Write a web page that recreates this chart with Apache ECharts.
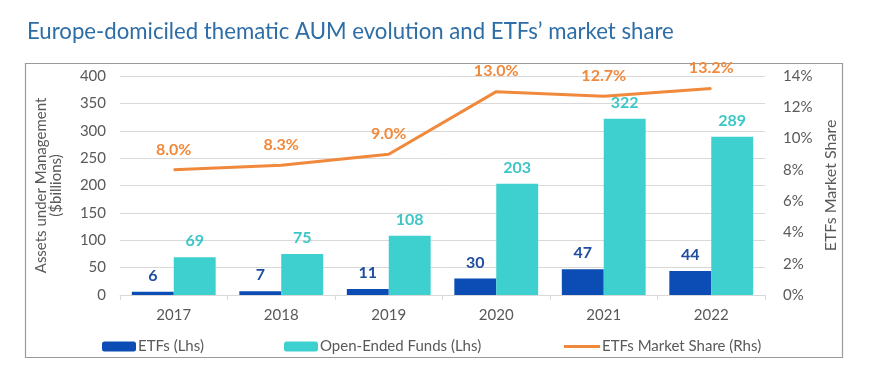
<!DOCTYPE html>
<html><head><meta charset="utf-8">
<script src="https://cdn.jsdelivr.net/npm/echarts@6/dist/echarts.min.js"></script>
<style>html,body{margin:0;padding:0;background:#fff}#c{width:878px;height:386px}</style>
</head><body><div id="c"></div>
<script>
const years = ['2017','2018','2019','2020','2021','2022'];
const etfs = [6, 7, 11, 30, 47, 44];
const oef = [69, 75, 108, 203, 322, 289];
const share = [8.0, 8.3, 9.0, 13.0, 12.7, 13.2];
const leftTicks = [0, 50, 100, 150, 200, 250, 300, 350, 400];
const rightTicks = [0, 2, 4, 6, 8, 10, 12, 14];

const F = 'Lato, "Open Sans", sans-serif';
const chart = echarts.init(document.getElementById('c'));
chart.setOption({
  animation: false,
  title: {text: 'Europe-domiciled thematic AUM evolution and ETFs’ market share', left: 22, top: 16,
    textStyle: {color: '#2e6ea6', fontSize: 22.2, fontWeight: 'normal', fontFamily: F}},
  graphic: [{type: 'rect', shape: {x: 25.5, y: 63.5, width: 817, height: 294},
    style: {fill: 'none', stroke: '#9a9a9a', lineWidth: 1.2}, silent: true}],
  legend: [
    {data: ['ETFs (Lhs)'], left: 97, top: 334, itemWidth: 34, itemHeight: 10, itemGap: 2,
      textStyle: {color: '#595959', fontSize: 15, fontFamily: F, padding: [0,0,0,-3]}},
    {data: ['Open-Ended Funds (Lhs)'], left: 279, top: 334, itemWidth: 34, itemHeight: 10,
      textStyle: {color: '#595959', fontSize: 15, fontFamily: F, padding: [0,0,0,-3]}},
    {data: [{name: 'ETFs Market Share (Rhs)', icon: 'rect'}], left: 559, top: 334, itemWidth: 36, itemHeight: 3,
      textStyle: {color: '#595959', fontSize: 15, fontFamily: F, padding: [0,0,0,-3]}}
  ],
  grid: {left: 120, right: 113, top: 76, bottom: 91},
  xAxis: {type: 'category', data: years,
    axisLine: {lineStyle: {color: '#d9d9d9'}}, axisTick: {show: true, lineStyle: {color: '#d9d9d9'}},
    axisLabel: {color: '#595959', fontSize: 15, fontFamily: F, margin: 13}},
  yAxis: [
    {type: 'value', min: 0, max: 400, interval: 50, name: 'Assets under Management\n($billions)',
      nameLocation: 'middle', nameRotate: 90, nameGap: 56,
      nameTextStyle: {color: '#595959', fontSize: 15, fontFamily: F, lineHeight: 15},
      axisLabel: {color: '#595959', fontSize: 15, fontFamily: F, margin: 14,
        formatter: v => leftTicks.includes(v) ? String(v) : ''},
      splitLine: {lineStyle: {color: '#d9d9d9'}}, axisLine: {show: false}, axisTick: {show: false}},
    {type: 'value', min: 0, max: 14, interval: 2, name: 'ETFs Market Share',
      nameLocation: 'middle', nameRotate: 90, nameGap: 56,
      nameTextStyle: {color: '#595959', fontSize: 16, fontFamily: F},
      axisLabel: {color: '#595959', fontSize: 15, fontFamily: F, margin: 18,
        formatter: v => rightTicks.includes(v) ? v + '%' : ''},
      splitLine: {show: false}, axisLine: {show: false}, axisTick: {show: false}}
  ],
  series: [
    {name: 'ETFs (Lhs)', type: 'bar', data: etfs, barGap: '0%', barCategoryGap: '22%',
      itemStyle: {color: '#0b4db5'},
      label: {show: true, position: 'top', distance: 8, color: '#1f4ea0', fontWeight: 'bold', fontSize: 16, fontFamily: F}},
    {name: 'Open-Ended Funds (Lhs)', type: 'bar', data: oef,
      itemStyle: {color: '#3ecfcf'},
      label: {show: true, position: 'top', distance: 8, color: '#3cc6c6', fontWeight: 'bold', fontSize: 16, fontFamily: F}},
    {name: 'ETFs Market Share (Rhs)', type: 'line', yAxisIndex: 1, data: share,
      symbol: 'circle', symbolSize: 1, showSymbol: true,
      lineStyle: {color: '#f0893c', width: 3}, itemStyle: {color: '#f0893c'},
      label: {show: true, position: 'top', distance: 12, color: '#f0893c', fontWeight: 'bold', fontSize: 16, fontFamily: F,
        formatter: p => p.value.toFixed(1) + '%'}}
  ]
});
</script></body></html>
